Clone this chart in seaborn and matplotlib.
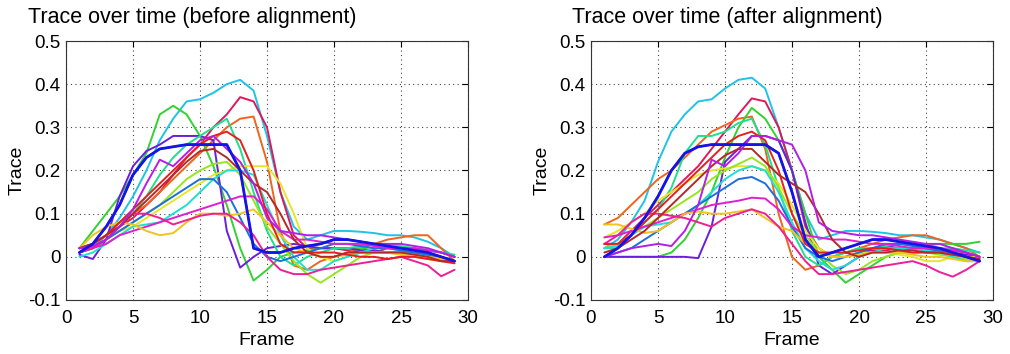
import numpy as np
import pandas as pd
import seaborn as sns
import matplotlib.pyplot as plt

# frames 1..29
frames = list(range(1, 30))

trace_names = ["cyan", "crimson", "orange", "green", "blue", "violet", "spring",
               "yellow", "lime", "turquoise", "steel", "magenta", "gold", "pink",
               "red", "darkred", "purple"]

trace_colors = ["#1ec3e6", "#e0185a", "#f0641e", "#32d232", "#1414e6", "#6a1ee0",
                "#1ee08c", "#e6e628", "#96e61e", "#1ee0d2", "#1e6edc", "#e01ed2",
                "#f0c31e", "#f01e96", "#e61e1e", "#b42828", "#b41ee6"]

# before alignment
before_cyan = [0.01, 0.02, 0.05, 0.09, 0.14, 0.20, 0.27, 0.32, 0.36, 0.365, 0.38, 0.40, 0.41, 0.385, 0.28, 0.15, 0.07, 0.04, 0.05, 0.06, 0.06, 0.058, 0.055, 0.05, 0.05, 0.045, 0.035, 0.02, 0.0]
before_crimson = [0.02, 0.03, 0.05, 0.07, 0.09, 0.12, 0.15, 0.19, 0.23, 0.26, 0.30, 0.33, 0.37, 0.36, 0.30, 0.15, 0.05, 0.02, 0.02, 0.02, 0.015, 0.01, 0.01, 0.02, 0.02, 0.02, 0.015, 0.01, 0.0]
before_orange = [0.02, 0.03, 0.05, 0.08, 0.10, 0.12, 0.15, 0.18, 0.21, 0.24, 0.27, 0.30, 0.32, 0.325, 0.22, 0.06, -0.02, -0.03, -0.01, 0.0, 0.01, 0.02, 0.03, 0.04, 0.045, 0.05, 0.05, 0.02, -0.01]
before_green = [0.02, 0.06, 0.10, 0.14, 0.19, 0.24, 0.33, 0.35, 0.33, 0.28, 0.21, 0.12, 0.02, -0.055, -0.03, 0.0, 0.01, 0.015, 0.02, 0.02, 0.02, 0.02, 0.015, 0.01, 0.01, 0.01, 0.0, -0.005, -0.01]
before_blue = [0.01, 0.03, 0.07, 0.12, 0.19, 0.23, 0.25, 0.255, 0.26, 0.26, 0.26, 0.26, 0.2, 0.02, 0.01, 0.01, 0.02, 0.025, 0.03, 0.04, 0.04, 0.035, 0.03, 0.025, 0.02, 0.015, 0.01, 0.0, -0.01]
before_violet = [0.005, -0.005, 0.04, 0.14, 0.21, 0.245, 0.26, 0.28, 0.28, 0.28, 0.27, 0.06, -0.025, 0.0, 0.02, 0.025, 0.03, 0.025, 0.02, 0.02, 0.02, 0.015, 0.015, 0.01, 0.01, 0.01, 0.005, 0.0, -0.01]
before_spring = [0.01, 0.02, 0.04, 0.07, 0.10, 0.14, 0.19, 0.23, 0.26, 0.28, 0.30, 0.32, 0.25, 0.15, 0.06, 0.0, -0.02, 0.0, 0.01, 0.02, 0.02, 0.025, 0.03, 0.03, 0.025, 0.02, 0.015, 0.01, 0.005]
before_yellow = [0.02, 0.03, 0.05, 0.06, 0.07, 0.09, 0.11, 0.13, 0.15, 0.17, 0.19, 0.20, 0.21, 0.21, 0.21, 0.17, 0.10, 0.02, 0.0, -0.01, 0.0, 0.01, 0.01, 0.01, 0.005, 0.0, -0.005, -0.01, -0.01]
before_lime = [0.01, 0.02, 0.04, 0.06, 0.08, 0.10, 0.12, 0.15, 0.18, 0.20, 0.215, 0.22, 0.19, 0.13, 0.07, 0.03, -0.01, -0.04, -0.06, -0.04, -0.02, 0.0, 0.01, 0.01, 0.01, 0.005, 0.0, -0.005, -0.01]
before_turquoise = [0.0, 0.01, 0.03, 0.05, 0.07, 0.075, 0.08, 0.10, 0.12, 0.15, 0.18, 0.20, 0.20, 0.19, 0.12, 0.05, 0.0, -0.03, -0.03, -0.01, 0.0, 0.01, 0.02, 0.02, 0.015, 0.01, 0.0, -0.01, -0.01]
before_steel = [0.01, 0.02, 0.04, 0.06, 0.08, 0.10, 0.12, 0.14, 0.16, 0.18, 0.18, 0.15, 0.09, 0.03, 0.0, -0.01, 0.0, 0.01, 0.02, 0.03, 0.03, 0.025, 0.02, 0.02, 0.015, 0.01, 0.005, 0.0, -0.01]
before_magenta = [0.02, 0.02, 0.03, 0.05, 0.06, 0.07, 0.08, 0.09, 0.10, 0.11, 0.12, 0.13, 0.14, 0.14, 0.11, 0.06, 0.04, 0.04, 0.035, 0.03, 0.03, 0.03, 0.025, 0.02, 0.02, 0.02, 0.015, 0.01, 0.0]
before_gold = [0.02, 0.05, 0.07, 0.08, 0.075, 0.06, 0.05, 0.055, 0.08, 0.10, 0.10, 0.095, 0.10, 0.11, 0.08, 0.05, 0.02, 0.01, 0.0, 0.0, 0.005, 0.01, 0.01, 0.01, 0.005, 0.0, 0.0, -0.005, -0.01]
before_pink = [0.01, 0.02, 0.04, 0.07, 0.10, 0.10, 0.09, 0.075, 0.085, 0.095, 0.10, 0.10, 0.08, 0.05, 0.0, -0.03, -0.04, -0.04, -0.03, -0.025, -0.02, -0.015, -0.01, -0.005, 0.0, -0.01, -0.02, -0.045, -0.03]
before_red = [0.02, 0.03, 0.05, 0.08, 0.11, 0.14, 0.17, 0.20, 0.23, 0.26, 0.28, 0.29, 0.27, 0.20, 0.10, 0.03, 0.01, 0.01, 0.01, 0.01, 0.005, 0.0, 0.0, -0.005, 0.0, 0.0, -0.005, -0.01, -0.015]
before_darkred = [0.02, 0.03, 0.05, 0.07, 0.10, 0.13, 0.16, 0.19, 0.22, 0.245, 0.25, 0.23, 0.20, 0.17, 0.15, 0.10, 0.04, 0.01, 0.0, 0.0, 0.01, 0.01, 0.01, 0.01, 0.01, 0.005, 0.0, -0.01, -0.01]
before_purple = [0.02, 0.025, 0.04, 0.07, 0.11, 0.17, 0.225, 0.21, 0.24, 0.27, 0.28, 0.25, 0.22, 0.17, 0.09, 0.06, 0.055, 0.05, 0.05, 0.045, 0.04, 0.035, 0.03, 0.03, 0.03, 0.025, 0.02, 0.01, 0.0]

# after alignment
after_cyan = [0.02, 0.04, 0.08, 0.13, 0.22, 0.29, 0.33, 0.36, 0.365, 0.39, 0.41, 0.415, 0.39, 0.30, 0.20, 0.10, 0.04, 0.05, 0.06, 0.06, 0.058, 0.055, 0.05, 0.05, 0.045, 0.04, 0.03, 0.02, 0.01]
after_crimson = [0.03, 0.03, 0.06, 0.09, 0.12, 0.15, 0.18, 0.21, 0.25, 0.29, 0.33, 0.367, 0.36, 0.30, 0.20, 0.07, 0.02, 0.0, 0.0, 0.01, 0.015, 0.015, 0.02, 0.02, 0.02, 0.02, 0.015, 0.01, 0.0]
after_orange = [0.075, 0.09, 0.12, 0.15, 0.18, 0.20, 0.23, 0.26, 0.29, 0.305, 0.32, 0.325, 0.25, 0.10, 0.0, -0.03, -0.02, 0.0, 0.01, 0.02, 0.03, 0.04, 0.045, 0.05, 0.05, 0.04, 0.03, 0.02, 0.0]
after_green = [0.0, 0.0, 0.0, 0.0, 0.0, 0.01, 0.04, 0.09, 0.15, 0.23, 0.30, 0.345, 0.32, 0.27, 0.20, 0.10, 0.0, -0.03, -0.06, -0.04, -0.02, 0.0, 0.01, 0.02, 0.025, 0.03, 0.03, 0.03, 0.035]
after_blue = [0.0, 0.02, 0.05, 0.09, 0.14, 0.20, 0.24, 0.255, 0.26, 0.26, 0.26, 0.26, 0.26, 0.24, 0.15, 0.04, 0.0, 0.01, 0.02, 0.03, 0.04, 0.04, 0.035, 0.03, 0.025, 0.02, 0.01, 0.0, -0.01]
after_violet = [0.0, 0.0, 0.0, 0.0, 0.0, 0.0, 0.0, -0.003, 0.07, 0.22, 0.25, 0.28, 0.28, 0.27, 0.20, 0.08, -0.02, -0.04, -0.02, 0.0, 0.02, 0.025, 0.02, 0.02, 0.015, 0.015, 0.01, 0.005, 0.0]
after_spring = [0.02, 0.02, 0.05, 0.08, 0.11, 0.16, 0.24, 0.28, 0.28, 0.29, 0.31, 0.32, 0.26, 0.16, 0.06, 0.0, -0.02, 0.0, 0.01, 0.02, 0.02, 0.025, 0.03, 0.03, 0.025, 0.02, 0.02, 0.015, 0.01]
after_yellow = [0.045, 0.06, 0.08, 0.10, 0.13, 0.15, 0.17, 0.19, 0.20, 0.205, 0.21, 0.21, 0.20, 0.17, 0.12, 0.06, 0.02, 0.0, 0.0, 0.01, 0.01, 0.01, 0.005, 0.0, -0.01, -0.01, 0.0, 0.0, 0.0]
after_lime = [0.02, 0.03, 0.05, 0.07, 0.09, 0.11, 0.13, 0.15, 0.18, 0.20, 0.215, 0.23, 0.21, 0.16, 0.10, 0.05, 0.01, -0.02, -0.04, -0.03, -0.01, 0.0, 0.01, 0.01, 0.01, 0.005, 0.0, -0.005, -0.01]
after_turquoise = [0.02, 0.025, 0.05, 0.07, 0.075, 0.08, 0.10, 0.12, 0.15, 0.18, 0.20, 0.21, 0.20, 0.15, 0.08, 0.02, -0.01, -0.03, -0.02, 0.0, 0.01, 0.02, 0.02, 0.02, 0.015, 0.01, 0.0, -0.01, -0.01]
after_steel = [0.0, 0.01, 0.02, 0.04, 0.06, 0.08, 0.10, 0.12, 0.14, 0.16, 0.18, 0.185, 0.17, 0.13, 0.07, 0.02, 0.0, -0.01, 0.0, 0.01, 0.02, 0.03, 0.03, 0.025, 0.02, 0.015, 0.01, 0.0, -0.01]
after_magenta = [0.045, 0.05, 0.06, 0.07, 0.08, 0.09, 0.10, 0.11, 0.12, 0.125, 0.13, 0.137, 0.135, 0.11, 0.07, 0.05, 0.045, 0.04, 0.04, 0.035, 0.03, 0.03, 0.025, 0.02, 0.02, 0.02, 0.015, 0.01, 0.0]
after_gold = [0.075, 0.075, 0.065, 0.055, 0.06, 0.08, 0.10, 0.105, 0.10, 0.10, 0.105, 0.11, 0.09, 0.07, 0.06, 0.03, 0.01, 0.0, 0.0, 0.005, 0.01, 0.01, 0.01, 0.005, 0.0, 0.0, -0.005, -0.01, -0.01]
after_pink = [0.03, 0.05, 0.08, 0.10, 0.10, 0.095, 0.09, 0.08, 0.07, 0.09, 0.10, 0.11, 0.10, 0.07, 0.03, -0.01, -0.04, -0.04, -0.035, -0.03, -0.025, -0.02, -0.015, -0.01, -0.02, -0.035, -0.046, -0.03, -0.01]
after_red = [0.03, 0.03, 0.05, 0.08, 0.11, 0.14, 0.17, 0.20, 0.23, 0.26, 0.28, 0.29, 0.27, 0.20, 0.10, 0.03, 0.01, 0.01, 0.01, 0.015, 0.02, 0.02, 0.015, 0.01, 0.01, 0.01, 0.005, 0.0, -0.005]
after_darkred = [0.01, 0.02, 0.04, 0.06, 0.09, 0.12, 0.15, 0.18, 0.21, 0.235, 0.25, 0.25, 0.22, 0.19, 0.17, 0.15, 0.10, 0.04, 0.01, 0.0, 0.01, 0.01, 0.015, 0.015, 0.01, 0.01, 0.005, 0.0, -0.005]
after_purple = [0.0, 0.01, 0.02, 0.025, 0.03, 0.025, 0.06, 0.12, 0.225, 0.21, 0.24, 0.28, 0.28, 0.27, 0.26, 0.20, 0.08, 0.06, 0.055, 0.05, 0.05, 0.045, 0.04, 0.035, 0.03, 0.03, 0.02, 0.01, 0.0]

before = [before_cyan, before_crimson, before_orange, before_green, before_blue,
          before_violet, before_spring, before_yellow, before_lime, before_turquoise,
          before_steel, before_magenta, before_gold, before_pink, before_red,
          before_darkred, before_purple]
after = [after_cyan, after_crimson, after_orange, after_green, after_blue,
         after_violet, after_spring, after_yellow, after_lime, after_turquoise,
         after_steel, after_magenta, after_gold, after_pink, after_red,
         after_darkred, after_purple]


def to_long(series):
    rows = []
    for name, vals in zip(trace_names, series):
        for f, v in zip(frames, vals):
            rows.append((name, f, v))
    return pd.DataFrame(rows, columns=["trace", "Frame", "Trace"])


sns.set_style("white")
plt.rcParams["font.family"] = ["Liberation Sans", "DejaVu Sans"]
plt.rcParams["text.color"] = "black"
plt.rcParams["axes.labelcolor"] = "black"
palette = dict(zip(trace_names, trace_colors))

fig = plt.figure(figsize=(10.1, 3.54), dpi=100)
ax1 = fig.add_axes([66 / 1010, 54 / 354, 402 / 1010, 259 / 354])
ax2 = fig.add_axes([591 / 1010, 54 / 354, 402 / 1010, 259 / 354])

titles = ["Trace over time (before alignment)", "Trace over time (after alignment)"]
title_x = [192 / 1010, 727 / 1010]
for ax, series, title, tx in zip([ax1, ax2], [before, after], titles, title_x):
    df = to_long(series)
    sns.lineplot(data=df, x="Frame", y="Trace", hue="trace", palette=palette,
                 linewidth=1.4, legend=False, ax=ax)
    # thicker blue trace drawn on top
    sns.lineplot(data=df[df["trace"] == "blue"], x="Frame", y="Trace",
                 color=palette["blue"], linewidth=2.0, legend=False, ax=ax)
    ax.set_xlim(0, 30)
    ax.set_ylim(-0.1, 0.5)
    ax.set_xticks([0, 5, 10, 15, 20, 25, 30])
    ax.set_yticks([-0.1, 0, 0.1, 0.2, 0.3, 0.4, 0.5])
    ax.set_yticklabels(["-0.1", "0", "0.1", "0.2", "0.3", "0.4", "0.5"])
    ax.grid(True, linestyle=(0, (1, 3)), color="#444444", linewidth=0.8)
    ax.tick_params(direction="in", top=True, right=True, labelsize=13.5,
                   length=4, colors="black")
    ax.tick_params(axis="x", pad=7)
    ax.tick_params(axis="y", pad=4)
    for s in ax.spines.values():
        s.set_color("#333333")
        s.set_linewidth(0.8)
    fig.text(tx, 1 - 17 / 354, title, fontsize=15.5, ha="center", va="center",
             color="black")
    ax.set_xlabel("Frame", fontsize=14, labelpad=4)
    ax.set_ylabel("Trace", fontsize=14, labelpad=2)

fig.savefig("out.png", dpi=100)
